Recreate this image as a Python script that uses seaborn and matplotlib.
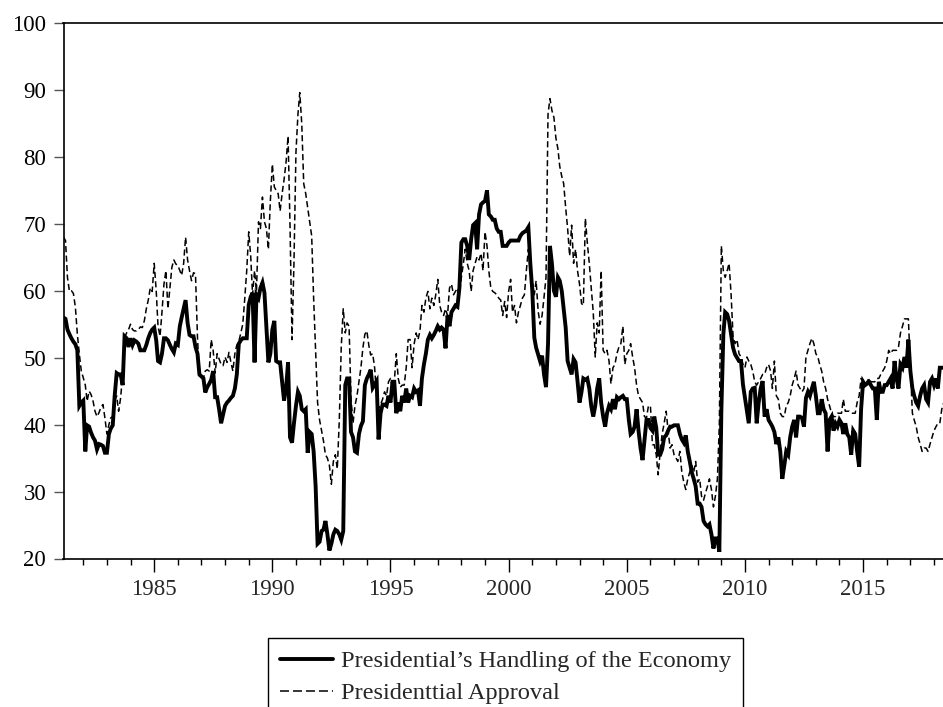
import pandas as pd
import numpy as np
import matplotlib
matplotlib.use("Agg")
import matplotlib.pyplot as plt
import matplotlib.dates as mdates
from matplotlib.lines import Line2D
import seaborn as sns

# monthly observations, 1981M03 .. 2018M06
start_month = "1981-03-01"

economy = [
    56.0, 55.8, 54.2, 53.5, 52.9, 52.4, 52.0, 51.1, 42.8, 43.3,  # 1981
    43.6, 36.0, 39.9, 39.7, 38.8, 38.1, 37.6, 36.3, 37.1, 37.0, 36.8, 35.8,  # 1982
    35.8, 38.6, 39.4, 39.9, 44.3, 47.7, 47.5, 47.5, 45.9, 53.2, 52.9, 51.6,  # 1983
    52.9, 51.9, 52.6, 52.4, 52.1, 51.1, 51.1, 51.1, 51.9, 52.9, 53.7, 54.2,  # 1984
    54.5, 52.6, 49.5, 49.3, 50.6, 52.9, 52.9, 52.6, 51.9, 51.3, 50.8, 52.1,  # 1985
    51.9, 54.7, 56.0, 57.3, 58.6, 55.2, 53.4, 53.2, 53.2, 51.6, 50.6, 47.5,  # 1986
    47.2, 46.9, 44.8, 45.6, 46.1, 46.7, 48.0, 44.1, 44.1, 42.3, 40.2, 41.5,  # 1987
    42.8, 43.3, 43.6, 44.0, 44.3, 45.4, 47.5, 52.1, 52.6, 52.9, 52.9, 52.9,  # 1988
    57.9, 59.1, 59.7, 49.3, 59.4, 58.9, 60.4, 61.2, 59.7, 54.7, 49.3, 50.6,  # 1989
    54.2, 55.5, 49.5, 49.3, 49.3, 46.4, 43.6, 45.4, 49.3, 38.1, 37.3, 40.2,  # 1990
    42.8, 44.9, 44.3, 42.3, 42.0, 42.3, 35.8, 38.9, 38.6, 36.0, 30.8, 22.2,  # 1991
    22.5, 24.1, 24.3, 25.6, 23.6, 21.2, 22.2, 23.6, 24.3, 24.1, 23.6, 22.8,  # 1992
    24.1, 45.9, 46.9, 46.9, 38.9, 38.1, 36.0, 35.8, 38.6, 39.8, 40.5, 45.9,  # 1993
    46.9, 47.5, 48.2, 45.5, 46.0, 46.5, 37.8, 41.7, 43.0, 43.0, 42.8, 44.3,  # 1994
    43.3, 46.4, 46.4, 41.7, 43.3, 42.0, 44.3, 43.3, 45.4, 43.3, 44.3, 44.1,  # 1995
    45.4, 44.9, 45.1, 42.8, 46.9, 49.0, 50.6, 52.7, 53.4, 52.9, 53.4, 54.0,  # 1996
    54.7, 54.2, 54.5, 54.2, 51.4, 56.3, 54.7, 56.8, 57.3, 57.8, 57.6, 60.4,  # 1997
    67.2, 67.7, 67.7, 66.7, 64.6, 67.7, 69.8, 70.1, 66.2, 71.4, 72.9, 73.2,  # 1998
    73.4, 75.0, 71.4, 71.1, 70.6, 70.6, 69.3, 68.8, 68.8, 66.7, 66.7, 66.7,  # 1999
    67.2, 67.5, 67.5, 67.5, 67.5, 67.5, 68.2, 68.6, 68.8, 69.0, 69.5, 64.1,  # 2000
    60.0, 53.0, 51.5, 50.5, 49.5, 50.3, 47.5, 45.6, 52.0, 66.7, 64.0, 60.0,  # 2001
    59.1, 62.0, 61.5, 60.0, 57.3, 54.5, 49.5, 48.5, 47.5, 49.8, 49.3, 46.5,  # 2002
    43.3, 44.9, 46.9, 46.7, 46.9, 45.4, 42.8, 41.2, 42.8, 45.4, 46.9, 43.3,  # 2003
    41.2, 39.7, 41.7, 42.8, 42.3, 43.8, 42.3, 44.1, 43.8, 44.1, 44.3, 43.8,  # 2004
    43.8, 40.7, 38.6, 38.9, 39.7, 42.3, 39.1, 36.5, 34.7, 37.6, 40.7, 40.7,  # 2005
    39.5, 39.1, 41.2, 39.5, 35.5, 35.5, 36.3, 38.1, 38.4, 39.1, 39.7, 39.7,  # 2006
    39.9, 39.9, 39.9, 38.6, 37.8, 37.3, 38.4, 36.0, 34.5, 32.9, 31.9, 30.8,  # 2007
    28.2, 28.2, 27.7, 25.6, 25.1, 24.8, 25.1, 23.6, 21.5, 23.0, 23.0, 21.0,  # 2008
    42.0, 53.5, 56.8, 56.5, 55.5, 53.5, 51.5, 50.5, 50.0, 49.5, 49.5, 46.0,  # 2009
    44.0, 42.0, 40.2, 44.9, 45.4, 45.5, 40.2, 43.3, 45.4, 46.5, 41.2, 42.3,  # 2010
    40.7, 40.2, 39.7, 38.9, 37.1, 38.1, 36.0, 31.9, 33.9, 36.0, 35.5, 38.1,  # 2011
    39.7, 40.7, 38.1, 41.2, 41.2, 41.0, 39.7, 44.0, 44.9, 44.3, 45.4, 46.4,  # 2012
    44.3, 41.7, 41.7, 43.8, 42.3, 41.7, 36.0, 40.7, 41.2, 39.1, 40.2, 39.7,  # 2013
    40.7, 40.2, 38.6, 40.2, 38.6, 38.1, 35.5, 39.1, 38.6, 36.0, 33.7, 42.3,  # 2014
    46.4, 45.9, 46.1, 46.4, 45.9, 45.4, 45.4, 40.7, 46.4, 44.9, 44.9, 45.9,  # 2015
    45.9, 46.4, 46.9, 45.4, 49.5, 46.9, 45.4, 49.0, 48.5, 50.1, 48.5, 52.7,  # 2016
    48.0, 45.4, 44.3, 43.3, 42.8, 44.3, 45.4, 45.9, 43.8, 43.3, 46.4, 46.9,  # 2017
    45.9, 46.9, 45.4, 48.5, 48.5, 48.5,  # 2018
]

approval = [
    68.0, 67.5, 62.0, 59.9, 60.0, 59.6, 57.5, 53.5, 50.5, 48.0,  # 1981
    47.0, 45.9, 43.5, 45.0, 44.5, 43.5, 42.0, 41.2, 41.8, 42.6, 43.0, 41.0,  # 1982
    38.6, 40.0, 41.0, 41.2, 43.6, 44.3, 42.0, 44.0, 47.5, 53.0, 53.7, 54.2,  # 1983
    55.0, 54.2, 54.0, 54.0, 54.2, 54.6, 54.5, 55.5, 57.3, 58.6, 60.4, 59.9,  # 1984
    64.1, 60.0, 54.7, 53.2, 56.8, 61.0, 63.0, 57.3, 60.5, 63.5, 64.6, 64.0,  # 1985
    63.8, 63.0, 62.3, 64.1, 68.0, 64.6, 63.0, 61.5, 62.7, 62.5, 53.0, 47.2,  # 1986
    47.5, 46.9, 48.0, 48.2, 48.0, 52.7, 51.1, 47.7, 50.6, 49.8, 49.0, 48.8,  # 1987
    50.1, 49.3, 50.8, 49.3, 48.0, 50.6, 51.9, 52.4, 53.7, 55.0, 58.9, 63.0,  # 1988
    68.8, 65.1, 59.4, 63.0, 59.9, 70.3, 69.3, 74.0, 70.3, 69.3, 66.2, 73.4,  # 1989
    78.9, 75.5, 75.0, 74.5, 71.9, 74.5, 76.6, 79.2, 83.1, 69.8, 52.7, 64.1,  # 1990
    80.7, 86.4, 89.6, 84.9, 76.0, 74.5, 72.4, 70.3, 68.2, 58.9, 51.1, 43.3,  # 1991
    40.7, 39.1, 37.6, 35.5, 35.0, 33.9, 31.1, 34.5, 35.5, 33.4, 40.7, 51.6,  # 1992
    57.3, 53.7, 55.2, 54.7, 43.8, 40.2, 42.8, 44.3, 46.4, 48.5, 51.5, 53.5,  # 1993
    54.0, 51.8, 50.4, 50.6, 48.5, 44.3, 42.5, 43.0, 43.8, 44.9, 44.3, 46.4,  # 1994
    46.9, 45.4, 46.4, 50.6, 46.9, 45.6, 45.9, 45.9, 48.5, 52.7, 52.7, 48.5,  # 1995
    52.0, 53.7, 52.7, 54.0, 57.8, 56.8, 58.9, 59.9, 57.3, 58.9, 57.8, 59.4,  # 1996
    61.7, 57.8, 56.8, 56.3, 57.3, 56.3, 60.4, 61.0, 59.4, 59.9, 60.4, 59.4,  # 1997
    62.0, 64.1, 66.2, 64.1, 63.0, 59.9, 63.0, 64.1, 65.1, 64.6, 65.6, 63.0,  # 1998
    68.8, 66.7, 63.0, 60.4, 59.9, 59.7, 59.4, 58.9, 58.6, 56.3, 58.4, 56.0,  # 1999
    59.9, 61.7, 56.8, 57.8, 55.2, 56.8, 57.8, 58.9, 59.4, 63.0, 66.2, 64.1,  # 2000
    61.5, 59.4, 61.5, 57.0, 55.0, 56.3, 59.0, 62.0, 86.4, 88.7, 86.9, 85.9,  # 2001
    82.8, 81.2, 78.6, 77.1, 76.0, 72.4, 69.3, 65.2, 69.8, 64.1, 66.2, 63.0,  # 2002
    61.0, 58.1, 57.8, 70.8, 67.2, 64.1, 60.4, 56.8, 50.1, 55.2, 53.7, 63.0,  # 2003
    51.1, 50.6, 51.1, 49.5, 46.1, 48.5, 49.0, 50.6, 51.6, 52.1, 54.7, 49.0,  # 2004
    50.6, 51.1, 52.1, 50.1, 48.5, 45.9, 44.3, 43.8, 43.3, 41.2, 41.0, 42.8,  # 2005
    42.8, 37.0, 37.0, 35.5, 32.5, 36.0, 38.6, 40.2, 42.0, 39.1, 36.5, 37.0,  # 2006
    35.5, 35.0, 34.5, 36.0, 32.9, 31.4, 30.3, 31.9, 32.9, 33.9, 32.9, 34.5,  # 2007
    31.4, 31.9, 29.3, 28.7, 29.8, 30.8, 31.9, 30.3, 27.7, 29.3, 31.9, 40.0,  # 2008
    66.7, 63.0, 62.0, 63.0, 64.1, 59.4, 53.2, 52.1, 52.7, 50.6, 50.1, 49.0,  # 2009
    48.5, 50.1, 49.5, 49.0, 48.0, 46.4, 45.9, 46.4, 46.9, 47.5, 47.5, 48.5,  # 2010
    49.0, 48.0, 45.4, 49.5, 44.3, 43.8, 41.7, 41.2, 41.2, 42.8, 43.3, 44.3,  # 2011
    45.9, 46.9, 48.0, 45.9, 45.4, 44.9, 45.4, 50.1, 51.1, 52.1, 52.9, 52.1,  # 2012
    50.6, 50.1, 49.0, 48.0, 46.4, 45.4, 43.8, 42.8, 41.7, 41.2, 41.2, 41.7,  # 2013
    41.7, 41.7, 43.8, 42.0, 42.0, 42.0, 41.7, 41.7, 41.7, 43.3, 44.3, 46.9,  # 2014
    46.4, 45.9, 46.4, 46.9, 46.4, 46.4, 46.4, 46.9, 46.9, 47.5, 48.0, 48.5,  # 2015
    49.5, 51.1, 50.6, 51.1, 51.1, 51.1, 51.6, 53.7, 54.7, 55.8, 55.8, 55.8,  # 2016
    48.5, 41.7, 40.7, 39.7, 38.1, 37.1, 36.0, 36.5, 36.5, 36.0, 37.1, 38.1,  # 2017
    39.1, 39.7, 40.2, 40.2, 42.3, 43.3,  # 2018
]

labels = ["Presidential\u2019s Handling of the Economy", "Presidenttial Approval"]
y_ticks = [20, 30, 40, 50, 60, 70, 80, 90, 100]

dates = pd.date_range(start_month, periods=len(economy), freq="MS")
df = pd.DataFrame({"date": dates, "economy": economy, "approval": approval})

sns.set_style("ticks")
plt.rcParams["font.family"] = ["Liberation Serif", "DejaVu Serif"]

fig = plt.figure(figsize=(9.43, 7.07), dpi=100)
ax = fig.add_axes([63.5 / 943, 148.5 / 707, 881.5 / 943, 535.5 / 707])

sns.lineplot(data=df, x="date", y="economy", ax=ax, color="black",
             linewidth=2.8, solid_joinstyle="miter")
sns.lineplot(data=df, x="date", y="approval", ax=ax, color="black",
             linewidth=1.1, linestyle=(0, (4, 2.2)))

ax.set_xlim(pd.Timestamp("1981-03-01"), pd.Timestamp("2018-06-20"))
ax.set_ylim(20, 100)
ax.set_yticks(y_ticks)
ax.xaxis.set_major_locator(mdates.YearLocator(5))
ax.xaxis.set_minor_locator(mdates.YearLocator(1))
ax.xaxis.set_major_formatter(mdates.DateFormatter("%Y"))
ax.set_xlabel("")
ax.set_ylabel("")

for side in ["left", "top", "bottom"]:
    ax.spines[side].set_linewidth(1.2)
    ax.spines[side].set_color("black")
ax.spines["right"].set_visible(False)

ax.tick_params(axis="y", direction="out", length=7.5, width=1, color="#555555",
               labelsize=16.5, pad=5, labelcolor="black")
ax.tick_params(axis="x", which="major", direction="out", length=9, width=1,
               labelsize=16.5, pad=6, color="black")
ax.tick_params(axis="x", which="minor", direction="out", length=4.5, width=1, color="black")

handles = [
    Line2D([], [], color="black", linewidth=2.8),
    Line2D([], [], color="black", linewidth=1.1, linestyle=(0, (5.9, 2.6))),
]
fig.legend(handles, labels, loc="upper left", bbox_to_anchor=(268 / 943, 1 - 638 / 707),
           frameon=True, fancybox=False, edgecolor="black", framealpha=1,
           fontsize=17.6, handlelength=2.15, handletextpad=0.33, borderpad=0.5,
           labelspacing=0.4, borderaxespad=0)
fig.legends[0].get_frame().set_linewidth(1.0)

fig.savefig("out.png", dpi=100)
